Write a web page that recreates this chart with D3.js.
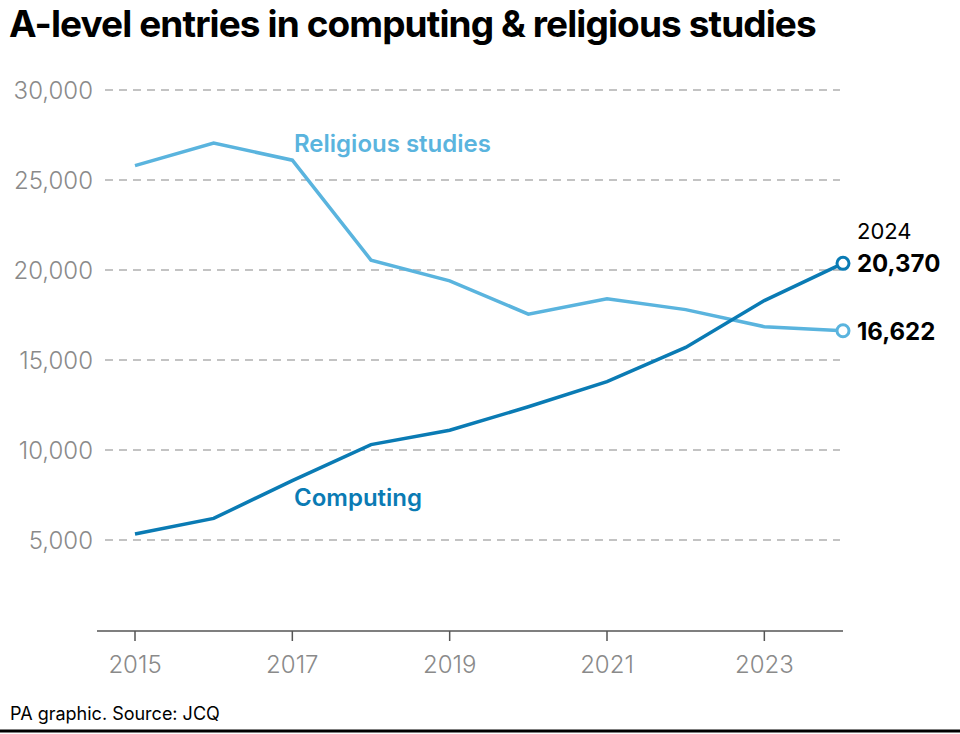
<!DOCTYPE html>
<html><head><meta charset="utf-8">
<script src="https://cdn.jsdelivr.net/npm/d3@7"></script>
<style>body{margin:0;background:#fff;font-family:Inter,"Open Sans",sans-serif}</style>
</head><body><svg id="c" width="960" height="734"></svg>
<script>
var years = [2015,2016,2017,2018,2019,2020,2021,2022,2023,2024];
var religious = [25800,27050,26100,20550,19400,17550,18400,17800,16850,16622];
var computing = [5330,6200,8300,10300,11100,12400,13800,15700,18300,20370];
var yTicks = [5000,10000,15000,20000,25000,30000];
var xTicks = [2015,2017,2019,2021,2023];

var svg = d3.select("#c");
var x = d3.scaleLinear().domain([2015,2024]).range([135,843]);
var y = d3.scaleLinear().domain([0,30000]).range([630,90]);
var fmt = d3.format(",");

svg.append("text").attr("x",9).attr("y",37).attr("font-size",37).attr("font-weight",700)
  .attr("letter-spacing",-0.9).text("A-level entries in computing & religious studies");

var g = svg.append("g");
yTicks.forEach(function(t){
  g.append("line").attr("x1",105).attr("x2",840).attr("y1",y(t)).attr("y2",y(t))
    .attr("stroke","#888").attr("stroke-dasharray","8,6").attr("stroke-width",1.2);
  g.append("text").attr("x",93).attr("y",y(t)+9).attr("text-anchor","end")
    .attr("font-size",24).attr("font-weight",300).attr("fill","#8a8a8a").text(fmt(t));
});
g.append("line").attr("x1",97).attr("x2",843).attr("y1",631).attr("y2",631).attr("stroke","#555").attr("stroke-width",1.5);
xTicks.forEach(function(t){
  g.append("line").attr("x1",x(t)).attr("x2",x(t)).attr("y1",631).attr("y2",641).attr("stroke","#555").attr("stroke-width",1.5);
  g.append("text").attr("x",x(t)).attr("y",673).attr("text-anchor","middle")
    .attr("font-size",24).attr("font-weight",300).attr("fill","#8a8a8a").text(t);
});

var line = d3.line().x(function(d,i){return x(years[i]);}).y(function(d){return y(d);});
var series = [{v:religious,c:"#5ab4de",name:"Religious studies",lx:294,ly:152},
              {v:computing,c:"#0a7bb4",name:"Computing",lx:294,ly:506}];
series.forEach(function(s){
  svg.append("path").attr("d",line(s.v)).attr("fill","none").attr("stroke",s.c).attr("stroke-width",3.5);
  svg.append("text").attr("x",s.lx).attr("y",s.ly).attr("font-size",24).attr("font-weight",600)
    .attr("fill",s.c).text(s.name);
  var last = s.v[s.v.length-1];
  svg.append("circle").attr("cx",x(2024)).attr("cy",y(last)).attr("r",6)
    .attr("fill","#fff").attr("stroke",s.c).attr("stroke-width",3);
  svg.append("text").attr("x",x(2024)+14).attr("y",y(last)+9).attr("font-size",24)
    .attr("font-weight",700).text(fmt(last));
});
svg.append("text").attr("x",x(2024)+14).attr("y",y(20370)-24).attr("font-size",22).text("2024");

svg.append("text").attr("x",10).attr("y",720).attr("font-size",18).text("PA graphic. Source: JCQ");
svg.append("line").attr("x1",0).attr("x2",960).attr("y1",731).attr("y2",731).attr("stroke","#000").attr("stroke-width",3);
</script></body></html>
